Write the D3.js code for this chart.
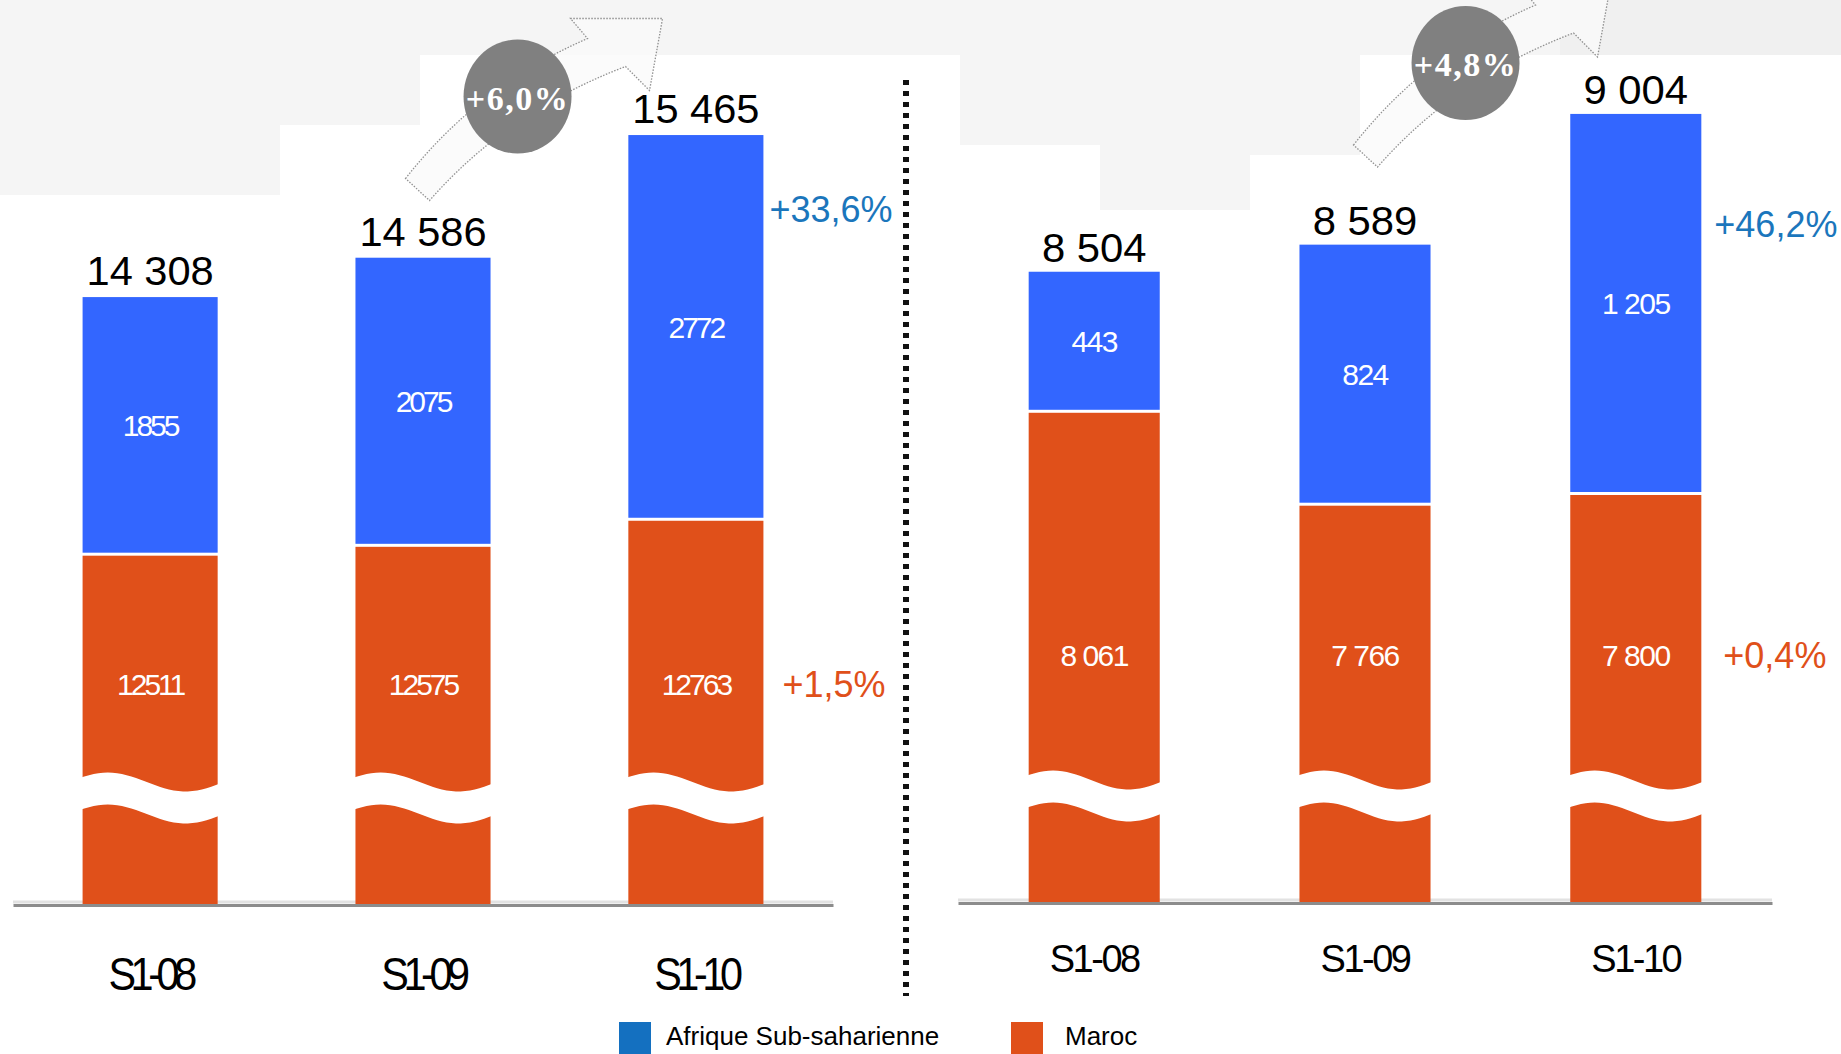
<!DOCTYPE html>
<html>
<head>
<meta charset="utf-8">
<script src="https://cdn.jsdelivr.net/npm/d3@7"></script>
<style>
  html, body { margin: 0; padding: 0; background: #fff; }
</style>
</head>
<body>
<div id="chart-container"></div>
<script>
// Categories and series
const periods = ["S1-08", "S1-09", "S1-10"];
const seriesNames = ["Afrique Sub-saharienne", "Maroc"];

// Left panel values
const maroc1 = [12511, 12575, 12763];
const afrique1 = [1855, 2075, 2772];
const total1 = [14308, 14586, 15465];

// Right panel values
const maroc2 = [8061, 7766, 7800];
const afrique2 = [443, 824, 1205];
const total2 = [8504, 8589, 9004];

// Growth S1-10 vs S1-09 (left panel, right panel)
const growthTotal = ["+6,0%", "+4,8%"];
const growthAfrique = ["+33,6%", "+46,2%"];
const growthMaroc = ["+1,5%", "+0,4%"];

const width = 1841;
const height = 1054;
const blue = "#3366ff";
const orange = "#e0501a";
const pctBlue = "#1b76bc";
const legendBlue = "#1470c0";
const sans = "'Liberation Sans', Arial, sans-serif";

const fr = d3.formatLocale({decimal: ",", thousands: " ", grouping: [3], currency: ["", ""]});
const spaced = fr.format(",d");

const svg = d3.create("svg")
    .attr("width", width)
    .attr("height", height)
    .style("font-family", sans);

svg.append("rect").attr("width", width).attr("height", height).attr("fill", "#fff");

// faint world-map watermark at the top
const watermark = svg.append("g").attr("fill", "#f5f5f5");
[[0, 0, 1841, 55], [0, 55, 280, 140], [280, 55, 140, 70], [960, 55, 140, 90],
 [1250, 55, 110, 100], [1100, 0, 150, 210]].forEach(r =>
  watermark.append("rect").attr("x", r[0]).attr("y", r[1]).attr("width", r[2]).attr("height", r[3]));
svg.append("rect").attr("x", 1560).attr("y", 0).attr("width", 281).attr("height", 55).attr("fill", "#f0f0f0");

const panels = [
  {maroc: maroc1, afrique: afrique1, total: total1, k: 0,
   range: [13, 833], pi: 0.505, po: 0.255, base: 905, dom: [9980, 16000], top: 70.6,
   inner: d3.format("d"), innerSize: 30, innerLs: -3, marocLabel: 221,
   totSize: 40, totSx: 1.04, totGap: 12,
   catSize: 46, catLs: -6, catSx: 0.9, catPad: 52,
   pctA: 222, pctAdx: 6, pctMdx: 19, bubbleDx: 27, bubbleCy: 96.5},
  {maroc: maroc2, afrique: afrique2, total: total2, k: 1,
   range: [958, 1772], pi: 0.516, po: 0.261, base: 903, dom: [6500, 9500], top: -42,
   inner: spaced, innerSize: 30, innerLs: -1.5, marocLabel: 248,
   totSize: 41, totSx: 1.02, totGap: 10,
   catSize: 38, catLs: -2.5, catSx: 1, catPad: 42,
   pctA: 237, pctAdx: 13, pctMdx: 22, bubbleDx: 35, bubbleCy: 63}
];

function wavePath(x0, x1, c, th) {
  const A = 9.5, n = 30;
  const f = t => c - A * Math.cos(Math.PI * (t - 0.2) / 0.55);
  const topEdge = d3.range(n + 1).map(i => [x0 + (x1 - x0) * i / n, f(i / n)]);
  const bottomEdge = topEdge.map(p => [p[0], p[1] + th]).reverse();
  return d3.line()(topEdge.concat(bottomEdge)) + "Z";
}

// arrow shape, relative to the bubble centre
const arrowShape = "M-112,82 Q-40,-10 70,-58 L53,-78 L145,-78 L132,-6 L108,-30 Q-10,15 -88,104 Z";

panels.forEach(p => {
  const x = d3.scaleBand().domain(periods).range(p.range)
      .paddingInner(p.pi).paddingOuter(p.po);
  // broken axis: values below the domain start sit on the baseline
  const y = d3.scaleLinear().domain(p.dom).range([p.base, p.top]).clamp(true);
  const bw = x.bandwidth();
  const rows = periods.map((d, i) => ({
    period: d, maroc: p.maroc[i], afrique: p.afrique[i], total: p.total[i]
  }));
  const stack = d3.stack().keys(["maroc", "afrique"])(rows);

  // growth arrow + bubble
  const bx = x("S1-09") + bw + p.bubbleDx;
  const g = svg.append("g").attr("transform", `translate(${bx},${p.bubbleCy})`);
  g.append("path").attr("d", arrowShape)
      .attr("fill", "#fbfbfb")
      .attr("stroke", "#777")
      .attr("stroke-width", 1.3)
      .attr("stroke-dasharray", "1.5 1.5")
      .attr("opacity", 0.8);
  g.append("ellipse").attr("rx", 54).attr("ry", 57).attr("fill", "#808080");
  g.append("text")
      .attr("y", 13)
      .attr("text-anchor", "middle")
      .attr("fill", "#fff")
      .attr("font-family", "'Liberation Serif', 'Times New Roman', serif")
      .attr("font-weight", "bold")
      .attr("font-size", 34)
      .attr("letter-spacing", 1.5)
      .text(growthTotal[p.k]);

  // axis shadow
  svg.append("line")
      .attr("x1", p.range[0]).attr("x2", p.range[1])
      .attr("y1", p.base - 3).attr("y2", p.base - 3)
      .attr("stroke", "#e2e2e2").attr("stroke-width", 3);

  // bars
  const colors = {maroc: orange, afrique: blue};
  stack.forEach(layer => {
    svg.append("g").attr("fill", colors[layer.key])
      .selectAll("rect")
      .data(layer)
      .join("rect")
        .attr("x", d => x(d.data.period))
        .attr("width", bw)
        .attr("y", d => y(d[1]) + (layer.key === "maroc" ? 1.5 : 0))
        .attr("height", d => y(d[0]) - y(d[1]) - 1.5);
  });

  // axis break waves
  svg.append("g").attr("fill", "#fff")
    .selectAll("path")
    .data(periods)
    .join("path")
      .attr("d", d => wavePath(x(d) - 3, x(d) + bw + 3, p.base - 123, 32));

  const ax = svg.append("g")
      .attr("transform", `translate(0,${p.base})`)
      .call(d3.axisBottom(x).tickSize(0).tickPadding(p.catPad));
  ax.select(".domain").attr("stroke", "#8c8c8c").attr("stroke-width", 3);
  ax.selectAll(".tick text")
      .attr("font-family", sans)
      .attr("font-size", p.catSize)
      .attr("letter-spacing", p.catLs)
      .attr("fill", "#000")
      .attr("transform", `scale(${p.catSx},1)`);

  // inner labels
  svg.append("g")
      .attr("fill", "#fff")
      .attr("text-anchor", "middle")
      .attr("font-size", p.innerSize)
      .attr("letter-spacing", p.innerLs)
    .selectAll("text")
    .data(rows)
    .join("text")
      .attr("x", d => x(d.period) + bw / 2)
      .attr("y", d => (y(d.maroc) + y(d.maroc + d.afrique)) / 2)
      .attr("dy", "0.35em")
      .text(d => p.inner(d.afrique));
  svg.append("g")
      .attr("fill", "#fff")
      .attr("text-anchor", "middle")
      .attr("font-size", p.innerSize)
      .attr("letter-spacing", p.innerLs)
    .selectAll("text")
    .data(rows)
    .join("text")
      .attr("x", d => x(d.period) + bw / 2)
      .attr("y", p.base - p.marocLabel)
      .attr("dy", "0.35em")
      .text(d => p.inner(d.maroc));

  // totals
  svg.append("g")
      .attr("fill", "#000")
      .attr("text-anchor", "middle")
      .attr("font-size", p.totSize)
    .selectAll("text")
    .data(rows)
    .join("text")
      .attr("transform", d =>
        `translate(${x(d.period) + bw / 2},${y(d.maroc + d.afrique) - p.totGap}) scale(${p.totSx},1)`)
      .text(d => spaced(d.total));

  // growth by segment
  const last = x("S1-10") + bw;
  svg.append("text")
      .attr("x", last + p.pctAdx)
      .attr("y", p.pctA)
      .attr("font-size", 36)
      .attr("fill", pctBlue)
      .text(growthAfrique[p.k]);
  svg.append("text")
      .attr("x", last + p.pctMdx)
      .attr("y", p.base - p.marocLabel + 13)
      .attr("font-size", 36)
      .attr("fill", orange)
      .text(growthMaroc[p.k]);
});

// dotted separator between the two panels
svg.append("line")
    .attr("x1", 906).attr("x2", 906)
    .attr("y1", 80).attr("y2", 996)
    .attr("stroke", "#111")
    .attr("stroke-width", 6)
    .attr("stroke-dasharray", "5 6");

// legend
const legend = svg.append("g");
const legendItems = [
  {name: seriesNames[0], color: legendBlue, x: 619, tx: 666},
  {name: seriesNames[1], color: orange, x: 1011, tx: 1065}
];
legendItems.forEach(d => {
  legend.append("rect")
      .attr("x", d.x).attr("y", 1022)
      .attr("width", 32).attr("height", 34)
      .attr("fill", d.color);
  legend.append("text")
      .attr("x", d.tx).attr("y", 1045)
      .attr("font-size", 26)
      .attr("fill", "#000")
      .text(d.name);
});

d3.select("#chart-container").append(() => svg.node());
</script>
</body>
</html>
